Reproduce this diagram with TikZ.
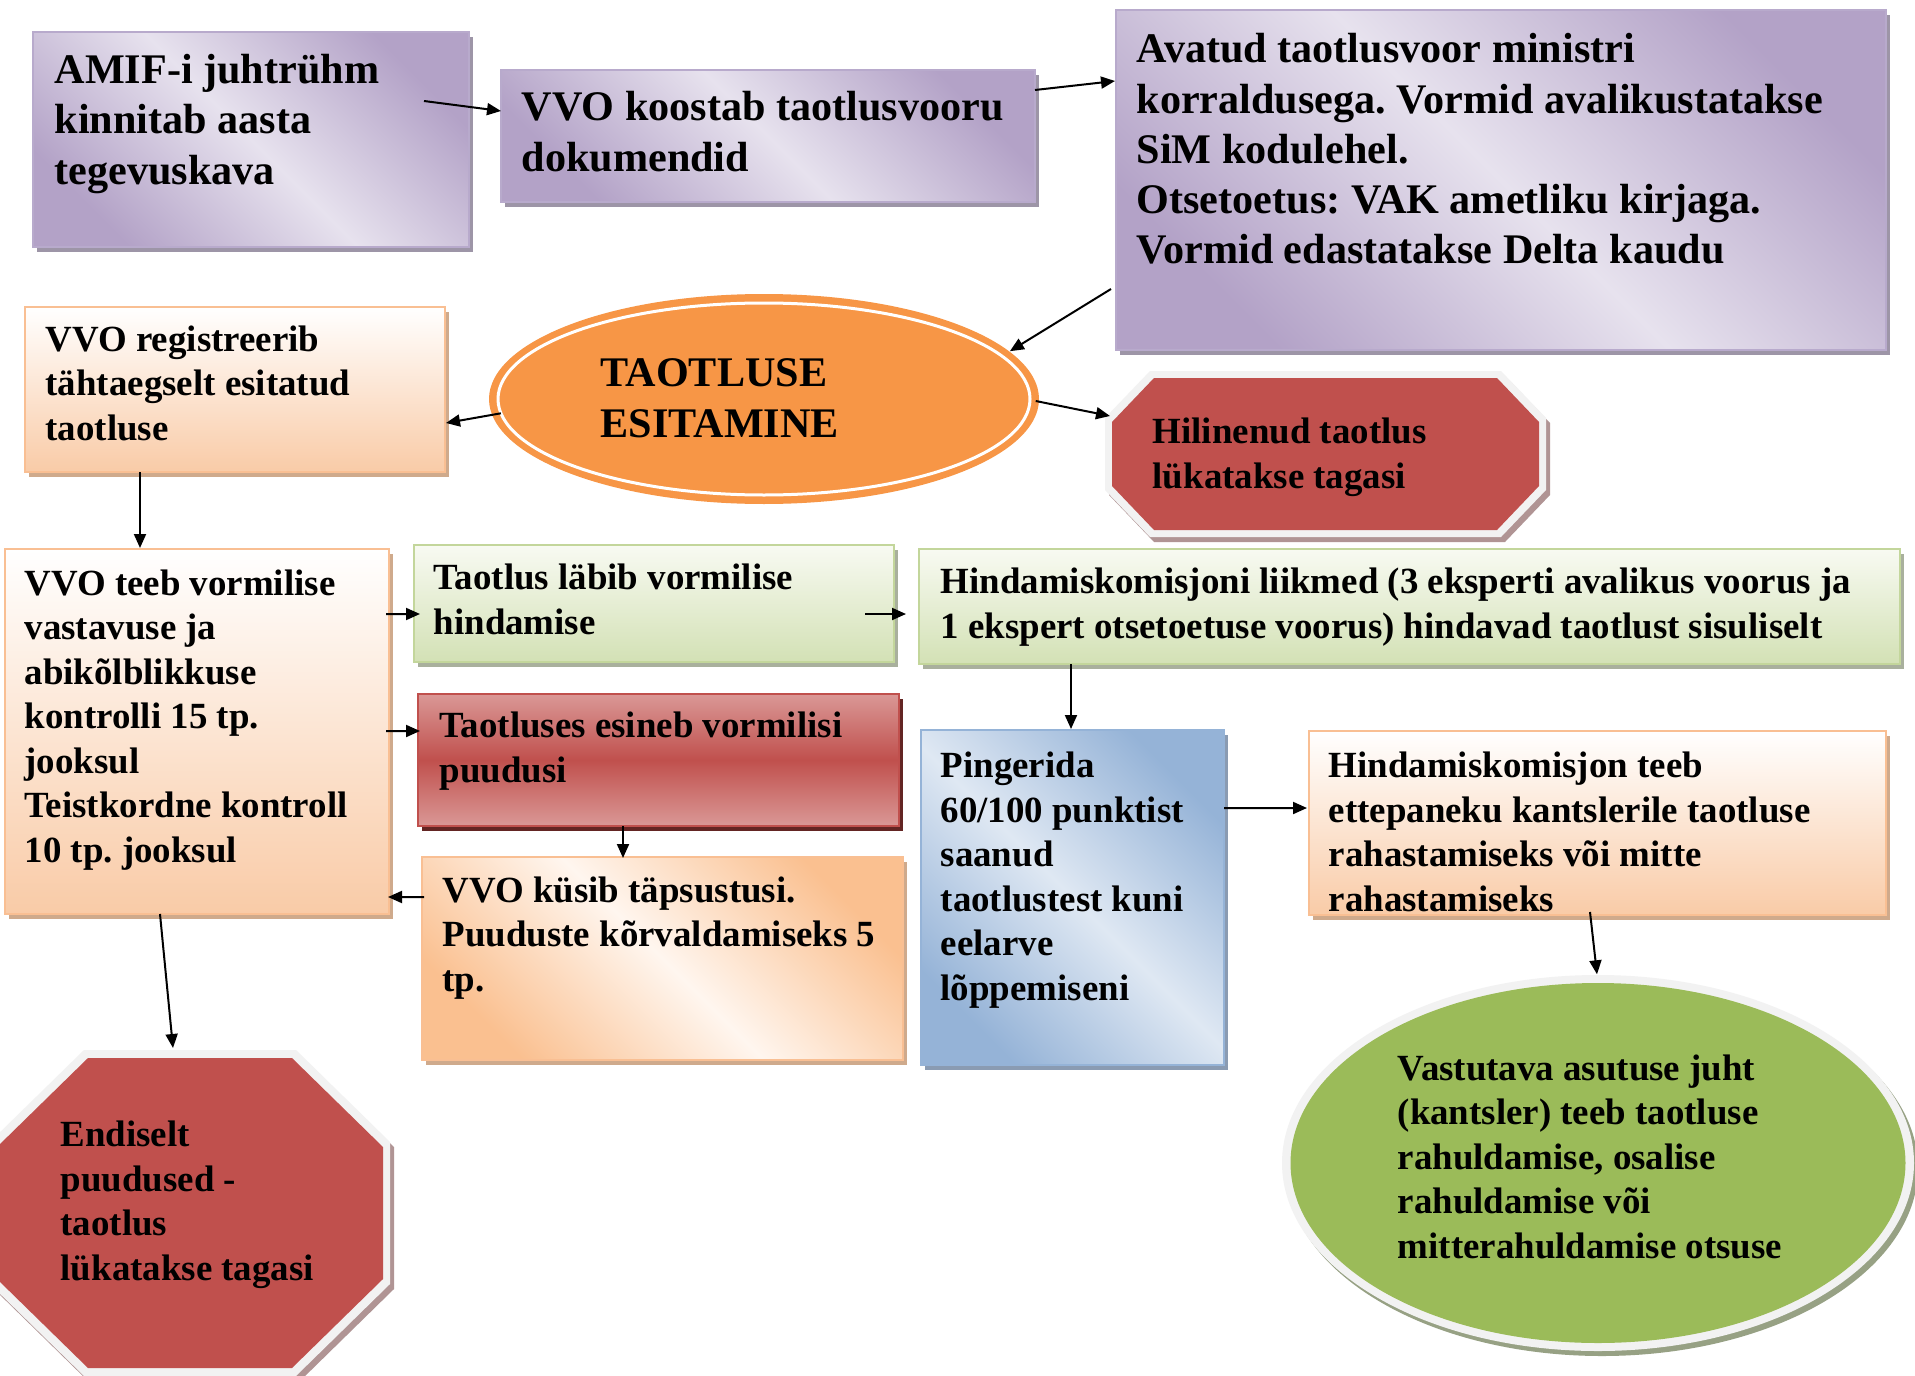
\documentclass[tikz,border=0pt]{standalone}
\usepackage{fontspec}
\setmainfont{Liberation Serif}
\frenchspacing
\usetikzlibrary{arrows.meta,fit,shapes.geometric,calc}

\definecolor{purD}{HTML}{B3A2C7}
\definecolor{purL}{HTML}{E7E2EE}
\definecolor{purB}{HTML}{B8AACC}
\definecolor{purS}{HTML}{9D95A7}
\definecolor{oraD}{HTML}{F9CBA7}
\definecolor{oraDD}{HTML}{FAC090}
\definecolor{oraLL}{HTML}{FFF6EF}
\definecolor{oraB}{HTML}{F9BF93}
\definecolor{oraS}{HTML}{CFAA8C}
\definecolor{greL}{HTML}{F8FAF2}
\definecolor{greD}{HTML}{D3E1B5}
\definecolor{greB}{HTML}{C3D69B}
\definecolor{greS}{HTML}{A9B09D}
\definecolor{redM}{HTML}{C0504D}
\definecolor{redL}{HTML}{DA9896}
\definecolor{redS}{HTML}{632523}
\definecolor{bluD}{HTML}{95B3D7}
\definecolor{bluL}{HTML}{DFE8F3}
\definecolor{bluS}{HTML}{8A9BB2}
\definecolor{accOra}{HTML}{F79646}
\definecolor{accGre}{HTML}{9BBB59}
\definecolor{ringG}{HTML}{F2F2F2}
\definecolor{octS}{HTML}{B09494}
\definecolor{ellS}{HTML}{97A184}

\tikzset{
  lbl/.style={inner sep=0pt, anchor=base west, align=left, text=black},
  bigtxt/.style={lbl, font=\bfseries\frenchspacing\fontsize{12}{14.3}\selectfont},
  smalltxt/.style={lbl, font=\bfseries\frenchspacing\fontsize{10.5}{12.66}\selectfont},
  conn/.style={line width=0.2mm, -{Triangle[length=1.4mm,width=1.2mm]}},
  slot/.style={inner sep=0pt, outer sep=0pt},
  purfill/.style={top color=purD, bottom color=purD, middle color=purL, shading angle=-45},
  orafill/.style={top color=white, bottom color=oraD},
  oradiag/.style={top color=oraDD, bottom color=oraDD, middle color=oraLL, shading angle=-45},
  grefill/.style={top color=greL, bottom color=greD},
  redfill/.style={top color=redL, bottom color=redL, middle color=redM},
  blufill/.style={top color=bluD, bottom color=bluD, middle color=bluL, shading angle=-45},
}

% name, corner nw, corner se, shadow colour, fill style, border colour
\newcommand\shbox[6]{%
  \node[slot, fit={#2 #3}] (#1) {};
  \fill[#4] ([shift={(4,5)}]#1.north west) rectangle ([shift={(4,5)}]#1.south east);
  \shade[#5] (#1.north west) rectangle (#1.south east);
  \draw[#6, line width=0.25mm] (#1.north west) rectangle (#1.south east);
}
% octagon path: x1,y1,x2,y2,cutx,cuty
\newcommand\octa[6]{({#1+#5},#2) -- ({#3-#5},#2) -- (#3,{#2+#6}) -- (#3,{#4-#6}) -- ({#3-#5},#4) -- ({#1+#5},#4) -- (#1,{#4-#6}) -- (#1,{#2+#6}) -- cycle}

\begin{document}
\begin{tikzpicture}[x=0.1mm, y=-0.1mm]
\useasboundingbox (0,0) rectangle (1915,1376);
\clip (0,0) rectangle (1915,1376);
\fill[white] (0,0) rectangle (1915,1376);

% ---- boxes
\shbox{amif}{(33,32)}{(469,247)}{purS}{purfill}{purB}
\shbox{koostab}{(501,70)}{(1035,202)}{purS}{purfill}{purB}
\shbox{avatud}{(1116,10)}{(1886,350)}{purS}{purfill}{purB}
\shbox{reg}{(25,307)}{(445,472)}{oraS}{orafill}{oraB}
\shbox{teeb}{(5,549)}{(389,914)}{oraS}{orafill}{oraB}
\shbox{labib}{(414,545)}{(894,662)}{greS}{grefill}{greB}
\shbox{hindA}{(919,549)}{(1900,664)}{greS}{grefill}{greB}
\shbox{esineb}{(418,694)}{(899,826)}{redS}{redfill}{redM}
\shbox{kysib}{(422,857)}{(903,1060)}{oraS}{oradiag}{oraB}
\shbox{pinger}{(921,730)}{(1224,1065)}{bluS}{blufill}{bluD}
\shbox{hindB}{(1309,731)}{(1886,915)}{oraS}{orafill}{oraB}

% ---- ellipse TAOTLUSE ESITAMINE
\node[ellipse, minimum width=55mm, minimum height=21mm, inner sep=0pt, fill=accOra] (esit) at (764,399) {};
\draw[white, line width=0.3mm] (764,399) ellipse [x radius=266, y radius=96];

% ---- octagon Hilinenud
\fill[octS] [shift={(4,5)}] \octa{1105}{371}{1546}{537}{45}{47};
\fill[ringG] \octa{1105}{371}{1546}{537}{45}{47};
\fill[redM] \octa{1112}{378}{1539}{530}{42}{44};
\node[slot, fit={(1112,378) (1539,530)}] (hil) {};

% ---- octagon Endiselt
\fill[octS] [shift={(4,5)}] \octa{-10}{1050}{390}{1376}{94}{92};
\fill[ringG] \octa{-10}{1050}{390}{1376}{94}{92};
\fill[redM] \octa{-3}{1058}{383}{1368}{91}{89};
\node[slot, fit={(-3,1058) (383,1368)}] (endis) {};

% ---- ellipse Vastutava
\fill[ellS] (1602,1168) ellipse [x radius=316, y radius=188];
\fill[ringG] (1598,1163) ellipse [x radius=316, y radius=188];
\node[ellipse, minimum width=61.5mm, minimum height=36mm, inner sep=0pt, fill=accGre] (vast) at (1598,1163) {};

% ---- texts (positioned at the baseline of the last line)
\node[bigtxt] (tAmif) at (54,184) {AMIF-i juhtrühm\\kinnitab aasta\\tegevuskava};
\node[bigtxt] (tKoostab) at (521,171) {VVO koostab taotlusvooru\\dokumendid};
\node[bigtxt] (tAvatud) at (1136,264) {Avatud taotlusvoor ministri\\korraldusega. Vormid avalikustatakse\\SiM kodulehel.\\Otsetoetus: VAK ametliku kirjaga.\\Vormid edastatakse Delta kaudu};
\node[bigtxt] (tEsit) at (600,437) {TAOTLUSE\\ESITAMINE};
\node[smalltxt] (tReg) at (45,440) {VVO registreerib\\tähtaegselt esitatud\\taotluse};
\node[smalltxt] (tHil) at (1152,488) {Hilinenud taotlus\\lükatakse tagasi};
\node[smalltxt] (tTeeb) at (24,862) {VVO teeb vormilise\\vastavuse ja\\abikõlblikkuse\\kontrolli 15 tp.\\jooksul\\Teistkordne kontroll\\10 tp. jooksul};
\node[smalltxt] (tLabib) at (433,634) {Taotlus läbib vormilise\\hindamise};
\node[smalltxt] (tHindA) at (940,638) {Hindamiskomisjoni liikmed (3 eksperti avalikus voorus ja\\1 ekspert otsetoetuse voorus) hindavad taotlust sisuliselt};
\node[smalltxt] (tEsineb) at (439,782) {Taotluses esineb vormilisi\\puudusi};
\node[smalltxt] (tKysib) at (442,991) {VVO küsib täpsustusi.\\Puuduste kõrvaldamiseks 5\\tp.};
\node[smalltxt] (tPinger) at (940,1000) {Pingerida\\60/100 punktist\\saanud\\taotlustest kuni\\eelarve\\lõppemiseni};
\node[smalltxt] (tHindB) at (1328,911) {Hindamiskomisjon teeb\\ettepaneku kantslerile taotluse\\rahastamiseks või mitte\\rahastamiseks};
\node[smalltxt] (tEndis) at (60,1280) {Endiselt\\puudused -\\taotlus\\lükatakse tagasi};
\node[smalltxt] (tVast) at (1397,1258) {Vastutava asutuse juht\\(kantsler) teeb taotluse\\rahuldamise, osalise\\rahuldamise või\\mitterahuldamise otsuse};

% ---- connectors
\draw[conn] ([shift={(-45,-38.5)}]amif.east) -- ([shift={(0,-25)}]koostab.west);
\draw[conn] ([shift={(0,-46)}]koostab.east) -- ([shift={(-1,-99)}]avatud.west);
\draw[conn] ([shift={(-5,109)}]avatud.west) -- (esit.11);
\draw[conn] ([shift={(10,0)}]esit.183) -- ([shift={(1,33.5)}]reg.east);
\draw[conn] ([shift={(-4,2)}]esit.east) -- ([shift={(-2,-38)}]hil.west);
\draw[conn] ([shift={(-95,0)}]reg.south) -- ([shift={(-57,-1)}]teeb.north);
\draw[conn] ([shift={(-3,-117.5)}]teeb.east) -- ([shift={(6,10.5)}]labib.west);
\draw[conn] ([shift={(-29,10.5)}]labib.east) -- ([shift={(-13,7.5)}]hindA.west);
\draw[conn] ([shift={(-3,-0.5)}]teeb.east) -- ([shift={(2,-29)}]esineb.west);
\draw[conn] ([shift={(-35.5,0)}]esineb.south) -- ([shift={(-39.5,1)}]kysib.north);
\draw[conn] ([shift={(2,-61.5)}]kysib.west) -- ([shift={(-1,165.5)}]teeb.east);
\draw[conn] ([shift={(-37,0)}]teeb.south) -- ([shift={(-17,-10)}]endis.north);
\draw[conn] ([shift={(-338.5,0)}]hindA.south) -- ([shift={(-1.5,-1)}]pinger.north);
\draw[conn] ([shift={(0,-89.5)}]pinger.east) -- ([shift={(-2,-15)}]hindB.west);
\draw[conn] ([shift={(-7.5,-3)}]hindB.south) -- ([shift={(-1,-8)}]vast.north);
\end{tikzpicture}
\end{document}
